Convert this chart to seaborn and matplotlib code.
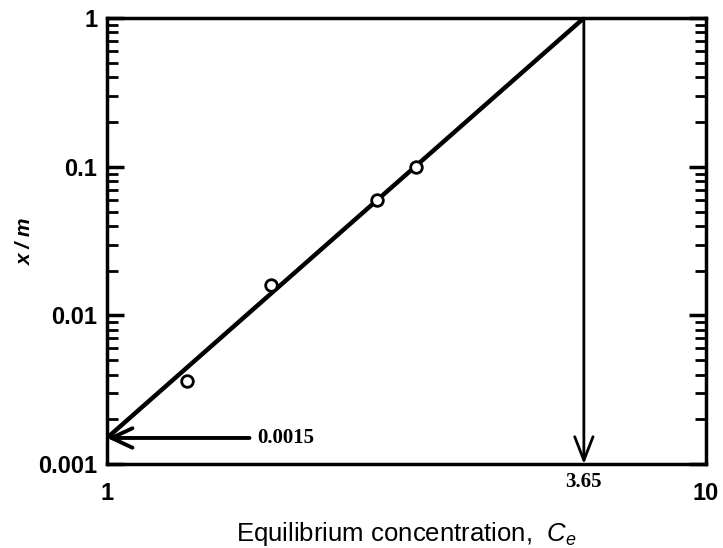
import numpy as np
import pandas as pd
import seaborn as sns
import matplotlib.pyplot as plt

ce_pts = [1.36, 1.88, 2.83, 3.28]
xm_pts = [0.0036, 0.016, 0.06, 0.1]
fit_x = [1.0, 6.26]
fit_y = [0.0015, 1.0]
intercept_label = "0.0015"
ce_at_one_label = "3.65"
arrow_tail_x = 1.73

sns.set_style("ticks", {'axes.edgecolor': 'black', 'xtick.color': 'black',
                        'ytick.color': 'black', 'text.color': 'black',
                        'axes.labelcolor': 'black'})
plt.rcParams['font.family'] = ['Liberation Sans', 'DejaVu Sans']
plt.rcParams['mathtext.fontset'] = 'custom'
plt.rcParams['mathtext.it'] = 'Liberation Sans:italic'
plt.rcParams['mathtext.rm'] = 'Liberation Sans'

fig = plt.figure(figsize=(7.23, 5.48), dpi=100)
ax = fig.add_axes([0.148, 0.153, 0.828, 0.814])

df_fit = pd.DataFrame({'x': fit_x, 'y': fit_y})
df_pts = pd.DataFrame({'x': ce_pts, 'y': xm_pts})
sns.lineplot(data=df_fit, x='x', y='y', color='black', linewidth=3.2, ax=ax)
sns.scatterplot(data=df_pts, x='x', y='y', s=70, facecolor='white',
                edgecolor='black', linewidth=2, zorder=5, ax=ax)

ax.set_xscale('log')
ax.set_yscale('log')
ax.set_xlim(1, 10)
ax.set_ylim(0.001, 1)

# arrows
ax.annotate('', xy=(1.0, fit_y[0]), xytext=(arrow_tail_x, fit_y[0]),
            arrowprops=dict(arrowstyle='->,head_length=0.75,head_width=0.35',
                            color='black', lw=2.8,
                            mutation_scale=20, shrinkA=0, shrinkB=0))
ax.text(arrow_tail_x * 1.03, fit_y[0], intercept_label, family='Liberation Serif',
        fontweight='bold', fontsize=15, va='center', ha='left')
ax.annotate('', xy=(fit_x[1], 0.001), xytext=(fit_x[1], 1.0),
            arrowprops=dict(arrowstyle='->,head_length=0.85,head_width=0.33',
                            color='black', lw=2,
                            mutation_scale=20, shrinkA=0, shrinkB=0))
ax.text(fit_x[1], 0.00076, ce_at_one_label, family='Liberation Serif',
        fontweight='bold', fontsize=15, va='center', ha='center')

ax.set_xticks([1, 10])
ax.set_xticklabels(['1', '10'], fontweight='bold')
ax.xaxis.set_minor_locator(plt.NullLocator())
ax.tick_params(axis='x', length=0, pad=13, labelsize=17)

ax.set_yticks([0.001, 0.01, 0.1, 1])
ax.set_yticklabels(['0.001', '0.01', '0.1', '1'], fontweight='bold')
ax.yaxis.set_minor_locator(plt.LogLocator(base=10, subs=np.arange(2, 10)))
ax.yaxis.set_minor_formatter(plt.NullFormatter())
ax.tick_params(axis='y', which='major', direction='in', length=12, width=2.5,
               left=True, right=True, labelsize=17, pad=7)
ax.tick_params(axis='y', which='minor', direction='in', length=8, width=2,
               left=True, right=True)

for sp in ax.spines.values():
    sp.set_linewidth(2.5)
    sp.set_color('black')

ax.set_xlabel('Equilibrium concentration,  $C_e$', fontsize=18.5, labelpad=11)
ax.set_ylabel('x / m', fontsize=15, fontstyle='italic', fontweight='bold', labelpad=2)

fig.savefig('out.png', dpi=100)
